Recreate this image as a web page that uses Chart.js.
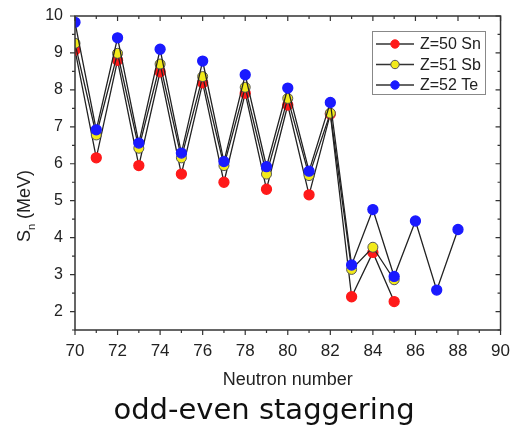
<!DOCTYPE html>
<html>
<head>
<meta charset="utf-8">
<script src="https://cdn.jsdelivr.net/npm/chart.js@4/dist/chart.umd.min.js"></script>
<style>
	body { margin: 0; background: #fff; }
	#wrap { width: 513px; height: 426px; }
</style>
</head>
<body>
<div id="wrap"><canvas id="sn_Chart" width="513" height="426"></canvas></div>
<script>
// 중성자 수 (N)
const n_Sn = [70, 71, 72, 73, 74, 75, 76, 77, 78, 79, 80, 81, 82, 83, 84, 85];
const n_Sb = [70, 71, 72, 73, 74, 75, 76, 77, 78, 79, 80, 81, 82, 83, 84, 85];
const n_Te = [70, 71, 72, 73, 74, 75, 76, 77, 78, 79, 80, 81, 82, 83, 84, 85, 86, 87, 88];
// 중성자 분리에너지 S_n (MeV)
const sn_Sn = [9.08, 6.16, 8.80, 5.95, 8.49, 5.72, 8.19, 5.50, 7.91, 5.31, 7.59, 5.16, 7.35, 2.40, 3.60, 2.27];
const sn_Sb = [9.26, 6.78, 8.99, 6.42, 8.70, 6.16, 8.36, 5.95, 8.07, 5.72, 7.77, 5.68, 7.37, 3.14, 3.74, 2.86];
const sn_Te = [9.83, 6.92, 9.41, 6.56, 9.10, 6.29, 8.78, 6.06, 8.41, 5.92, 8.05, 5.80, 7.66, 3.26, 4.76, 2.95, 4.45, 2.58, 4.22];
const series_Labels = ['Z=50 Sn', 'Z=51 Sb', 'Z=52 Te'];
// 축 눈금
const x_Ticks = [70, 72, 74, 76, 78, 80, 82, 84, 86, 88, 90];
const y_Ticks = [2, 3, 4, 5, 6, 7, 8, 9, 10];

const FONT = "'Liberation Sans', Arial, sans-serif";

function toPoints(xs, ys) {
	return xs.map(function(x, i) { return { x: x, y: ys[i] }; });
}

// 테두리 + 주/보조 눈금, y축 제목, 범례, 하단 설명
const framePlugin = {
	id: 'frame',
	afterDraw: function(chart) {
		const ctx = chart.ctx;
		const a = chart.chartArea;
		const xs = chart.scales.x, ys = chart.scales.y;
		ctx.save();
		ctx.strokeStyle = '#333';
		ctx.lineWidth = 1.5;
		ctx.strokeRect(a.left, a.top, a.right - a.left, a.bottom - a.top);
		ctx.lineWidth = 1.2;
		ctx.beginPath();
		for (let v = 70; v <= 90; v++) {
			const px = xs.getPixelForValue(v);
			const len = (v % 2 === 0) ? 5 : 3;
			ctx.moveTo(px, a.bottom); ctx.lineTo(px, a.bottom + len); // 아래: 바깥쪽
			ctx.moveTo(px, a.top); ctx.lineTo(px, a.top + len);       // 위: 안쪽
		}
		for (let v = 1.5; v <= 10; v += 0.5) {
			const py = ys.getPixelForValue(v);
			const len = (v % 1 === 0) ? 5 : 3;
			ctx.moveTo(a.left, py); ctx.lineTo(a.left - len, py);     // 왼쪽: 바깥쪽
			ctx.moveTo(a.right, py); ctx.lineTo(a.right - len, py);   // 오른쪽: 안쪽
		}
		ctx.stroke();

		// y축 제목 S_n (MeV)
		ctx.translate(25, 206);
		ctx.rotate(-Math.PI / 2);
		ctx.fillStyle = '#222';
		ctx.textBaseline = 'middle';
		ctx.textAlign = 'left';
		ctx.font = '18px ' + FONT;
		const wS = ctx.measureText('S').width;
		const wRest = ctx.measureText(' (MeV)').width;
		ctx.font = '11px ' + FONT;
		const wn = ctx.measureText('n').width;
		const x0 = -(wS + wn + wRest) / 2;
		ctx.font = '18px ' + FONT;
		ctx.fillText('S', x0, 0);
		ctx.fillText(' (MeV)', x0 + wS + wn, 0);
		ctx.font = '11px ' + FONT;
		ctx.fillText('n', x0 + wS, 7);
		ctx.restore();

		// 범례
		ctx.save();
		const lx = 372, ly = 31, lw = 113, lh = 63;
		ctx.fillStyle = '#fff';
		ctx.fillRect(lx, ly, lw, lh);
		ctx.strokeStyle = '#888';
		ctx.lineWidth = 1;
		ctx.strokeRect(lx + 0.5, ly + 0.5, lw, lh);
		chart.data.datasets.forEach(function(ds, i) {
			const cy = 44 + i * 20.5;
			ctx.strokeStyle = '#333';
			ctx.lineWidth = 1.3;
			ctx.beginPath();
			ctx.moveTo(376, cy); ctx.lineTo(414, cy);
			ctx.stroke();
			ctx.beginPath();
			ctx.arc(395, cy, 4.2, 0, Math.PI * 2);
			ctx.fillStyle = ds.pointBackgroundColor;
			ctx.fill();
			ctx.strokeStyle = ds.pointBorderColor;
			ctx.lineWidth = 1;
			ctx.stroke();
			ctx.fillStyle = '#222';
			ctx.font = '16px ' + FONT;
			ctx.textAlign = 'left';
			ctx.textBaseline = 'middle';
			ctx.fillText(series_Labels[i], 420, cy + 1);
		});

		// 하단 설명
		ctx.fillStyle = '#111';
		ctx.font = "29px 'DejaVu Sans', sans-serif";
		ctx.textAlign = 'center';
		ctx.textBaseline = 'middle';
		ctx.fillText('odd-even staggering', 264, 411);
		ctx.restore();
	}
};

var context = document.getElementById('sn_Chart').getContext('2d');
var sn_Chart = new Chart(context, {
	type: 'line',
	data: {
		datasets: [
			{
				label: series_Labels[0],
				data: toPoints(n_Sn, sn_Sn),
				borderColor: '#222',
				borderWidth: 1.3,
				pointBackgroundColor: '#ff1a1a',
				pointBorderColor: '#ff1a1a',
				pointRadius: 5,
				order: 2
			},
			{
				label: series_Labels[1],
				data: toPoints(n_Sb, sn_Sb),
				borderColor: '#222',
				borderWidth: 1.3,
				pointBackgroundColor: '#f2ea1a',
				pointBorderColor: '#555',
				pointBorderWidth: 1,
				pointRadius: 5,
				order: 1
			},
			{
				label: series_Labels[2],
				data: toPoints(n_Te, sn_Te),
				borderColor: '#222',
				borderWidth: 1.3,
				pointBackgroundColor: '#1a1aff',
				pointBorderColor: '#1a1aff',
				pointRadius: 5,
				order: 0
			}
		]
	},
	options: {
		responsive: false,
		animation: false,
		layout: { padding: { top: 16, right: 11, left: 0, bottom: 0 } },
		plugins: {
			legend: { display: false },
			tooltip: { enabled: false }
		},
		scales: {
			x: {
				type: 'linear',
				min: 70,
				max: 90,
				afterFit: function(s) { s.height = 96; },
				afterBuildTicks: function(s) { s.ticks = x_Ticks.map(function(v) { return { value: v }; }); },
				grid: { display: false },
				border: { display: false },
				ticks: { font: { family: FONT, size: 17 }, color: '#222', padding: 3, maxRotation: 0 },
				title: {
					display: true,
					text: 'Neutron number',
					font: { family: FONT, size: 18 },
					color: '#222',
					padding: { top: 0, bottom: 35 }
				}
			},
			y: {
				min: 1.5,
				max: 10,
				afterFit: function(s) { s.width = 75; },
				afterBuildTicks: function(s) { s.ticks = y_Ticks.map(function(v) { return { value: v }; }); },
				grid: { display: false },
				border: { display: false },
				ticks: { font: { family: FONT, size: 16 }, color: '#222', padding: 4 }
			}
		}
	},
	plugins: [framePlugin]
});
</script>
</body>
</html>
